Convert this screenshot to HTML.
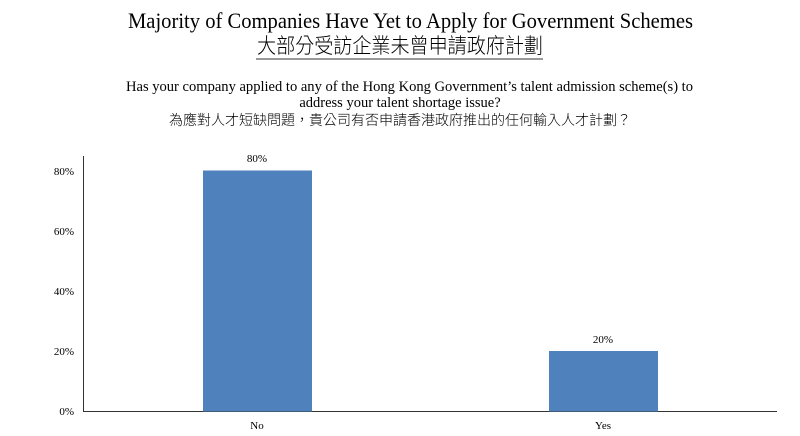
<!DOCTYPE html>
<html><head><meta charset="utf-8"><style>
body{margin:0;width:800px;height:436px;background:#fff;overflow:hidden;font-family:"Liberation Serif","Noto Serif CJK SC",serif;color:#000}
svg{position:absolute;left:0;top:0}
</style></head><body>
<svg width="800" height="436" xmlns="http://www.w3.org/2000/svg" font-family="Liberation Serif, Noto Serif CJK SC, serif">
<text x="128" y="28" font-size="22" textLength="565" lengthAdjust="spacingAndGlyphs">Majority of Companies Have Yet to Apply for Government Schemes</text>
<text x="257" y="53" font-size="21" textLength="286" lengthAdjust="spacingAndGlyphs" font-family="Noto Sans CJK TC, sans-serif" font-weight="300">大部分受訪企業未曾申請政府計劃</text>
<line x1="256" y1="59" x2="543" y2="59" stroke="#333" stroke-width="1"/>
<text x="126" y="91" font-size="14.5" textLength="567" lengthAdjust="spacingAndGlyphs">Has your company applied to any of the Hong Kong Government’s talent admission scheme(s) to</text>
<text x="400" y="107" font-size="14.5" text-anchor="middle">address your talent shortage issue?</text>
<text x="400" y="125" font-size="14" text-anchor="middle" font-family="Noto Sans CJK TC, sans-serif" font-weight="300">為應對人才短缺問題，貴公司有否申請香港政府推出的任何輸入人才計劃？</text>
<line x1="83.5" y1="156" x2="83.5" y2="411" stroke="#333"/>
<line x1="83" y1="411.5" x2="777" y2="411.5" stroke="#333"/>
<g font-size="11" text-anchor="end">
<text x="74" y="175">80%</text>
<text x="74" y="235">60%</text>
<text x="74" y="295">40%</text>
<text x="74" y="355">20%</text>
<text x="74" y="415">0%</text>
</g>
<rect x="203" y="170.5" width="109" height="241" fill="#4f81bd"/>
<rect x="549" y="351" width="109" height="60.5" fill="#4f81bd"/>
<g font-size="11" text-anchor="middle">
<text x="257" y="162">80%</text>
<text x="603" y="343">20%</text>
<text x="257" y="429">No</text>
<text x="603" y="429">Yes</text>
</g>
</svg>
</body></html>
